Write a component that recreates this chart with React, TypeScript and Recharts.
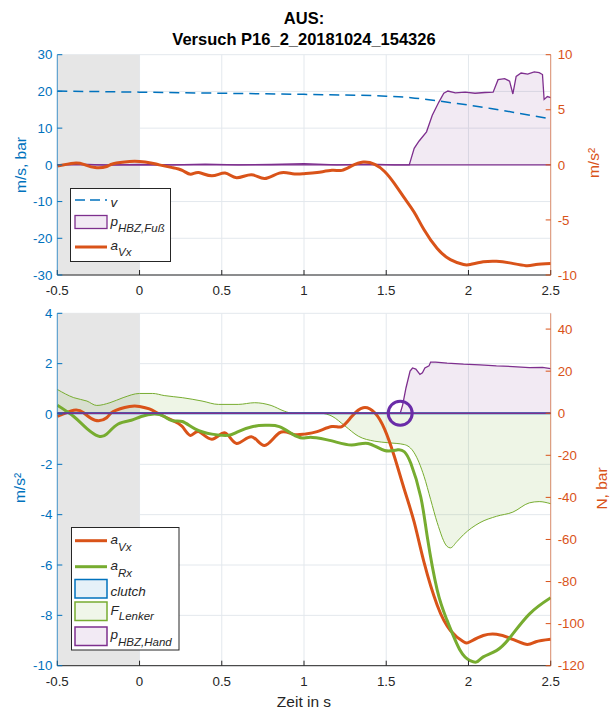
import {
  Area,
  CartesianGrid,
  ComposedChart,
  Line,
  ReferenceArea,
  ReferenceDot,
  ReferenceLine,
  XAxis,
  YAxis,
} from "recharts";

const FONT = '"Liberation Sans", Arial, Helvetica, sans-serif';
const BLUE = "#0072BD";
const ORANGE = "#D95319";
const PURPLE = "#7E2F8E";
const GREEN = "#77AC30";
const INK = "#262626";
const GRID = "#e3e8ed";
const SHADE = "#e6e6e6";

const timeTicks = [-0.5, 0, 0.5, 1, 1.5, 2, 2.5];
const topLeftTicks = [-30, -20, -10, 0, 10, 20, 30];
const topRightTicks = [-10, -5, 0, 5, 10];
const botLeftTicks = [-10, -8, -6, -4, -2, 0, 2, 4];
const botRightTicks = [-120, -100, -80, -60, -40, -20, 0, 20, 40];
const standWindow = [-0.5, 0];
const markerPoint = [1.585, 0];

// v in m/s (left axis, top)
const vT = [-0.5, 0, 0.5, 1, 1.5, 1.65, 1.8, 1.9, 2.0, 2.1, 2.2, 2.3, 2.4, 2.5];
const vV = [20.1, 19.8, 19.5, 19.2, 18.7, 18.3, 17.5, 16.9, 16.3, 15.6, 14.9, 14.1, 13.3, 12.5];

// p_HBZ,Fuss in bar (left axis, top)
const pFussT = [-0.5, -0.35, -0.2, 0, 0.2, 0.4, 0.6, 0.8, 1.0, 1.2, 1.4, 1.55, 1.64, 1.67, 1.7, 1.745, 1.78, 1.82, 1.85, 1.875, 1.92, 1.98, 2.04, 2.1, 2.15, 2.18, 2.22, 2.25, 2.27, 2.29, 2.32, 2.36, 2.4, 2.43, 2.45, 2.46, 2.48, 2.5];
const pFussV = [0, 0.2, -0.1, 0.1, 0, 0.2, 0, 0.1, 0.3, 0, 0.2, 0, 0, 4.5, 6.5, 9, 13.5, 17.1, 19.5, 20.1, 19.6, 19.8, 19.5, 19.7, 19.8, 23.2, 23.5, 22.8, 19.3, 24.1, 25, 24.7, 25.3, 25.1, 24.6, 17.8, 18.6, 18.3];

// a_Vx in m/s² (right axis top, left axis bottom)
const aVxT = [-0.5, -0.4, -0.34, -0.27, -0.2, -0.16, -0.06, 0, 0.06, 0.12, 0.2, 0.26, 0.31, 0.36, 0.44, 0.52, 0.59, 0.68, 0.76, 0.85, 0.93, 1.0, 1.08, 1.17, 1.23, 1.29, 1.36, 1.43, 1.49, 1.55, 1.61, 1.67, 1.73, 1.81, 1.89, 1.97, 2.01, 2.09, 2.17, 2.25, 2.35, 2.41, 2.5];
const aVxV = [-0.1, 0.15, 0.05, -0.25, -0.15, 0.1, 0.3, 0.3, 0.2, 0, -0.25, -0.5, -0.85, -0.7, -1.0, -0.75, -1.17, -0.9, -1.25, -0.75, -0.8, -0.8, -0.7, -0.5, -0.5, -0.1, 0.25, 0.05, -0.6, -1.7, -3.0, -4.3, -5.9, -7.6, -8.6, -9.05, -9.05, -8.8, -8.75, -8.9, -9.15, -9.05, -8.95];

// a_Rx in m/s² (left axis, bottom)
const aRxT = [-0.5, -0.4, -0.32, -0.25, -0.2, -0.13, -0.05, 0.01, 0.09, 0.15, 0.2, 0.26, 0.34, 0.44, 0.54, 0.6, 0.69, 0.77, 0.85, 0.93, 0.99, 1.05, 1.17, 1.29, 1.39, 1.49, 1.57, 1.61, 1.65, 1.71, 1.75, 1.81, 1.87, 1.95, 2.01, 2.05, 2.09, 2.17, 2.25, 2.37, 2.5];
const aRxV = [0.35, -0.1, -0.58, -0.88, -0.8, -0.4, -0.25, -0.1, 0, -0.1, -0.27, -0.3, -0.6, -0.8, -0.85, -0.7, -0.5, -0.45, -0.5, -0.8, -0.95, -0.93, -1.07, -1.23, -1.17, -1.45, -1.42, -1.5, -1.97, -3.3, -4.9, -7.0, -8.2, -9.4, -9.8, -9.85, -9.65, -9.4, -8.9, -7.95, -7.3];

// clutch (right axis, bottom)
const clutchT = [-0.5, 2.5];
const clutchV = [0, 0];

// F_Lenker in N (right axis, bottom)
const fT = [-0.5, -0.4, -0.32, -0.26, -0.18, -0.1, 0, 0.08, 0.15, 0.26, 0.38, 0.48, 0.6, 0.7, 0.8, 0.88, 0.93, 1.0, 1.1, 1.17, 1.25, 1.33, 1.43, 1.51, 1.61, 1.67, 1.73, 1.77, 1.81, 1.87, 1.89, 1.93, 1.97, 2.07, 2.17, 2.27, 2.37, 2.43, 2.5];
const fV = [11.3, 7.4, 5.8, 3.7, 5.0, 7.4, 9.4, 9.4, 8.4, 7.4, 5.8, 4.2, 4.2, 5.0, 3.7, 1.0, 0, 0, 0, -1.4, -6.1, -10.9, -13.3, -14, -14.9, -18.8, -30, -41, -52, -63.3, -64, -61, -57.7, -52, -49, -47, -42.6, -42, -43];

// p_HBZ,Hand in bar (right axis, bottom)
const pHandT = [-0.5, 0, 0.5, 1, 1.5, 1.585, 1.6, 1.62, 1.645, 1.66, 1.68, 1.705, 1.72, 1.735, 1.76, 1.77, 1.8, 1.87, 1.97, 2.07, 2.17, 2.27, 2.37, 2.45, 2.5];
const pHandV = [0, 0, 0, 0, 0, 0, 4, 12, 20, 21.5, 21, 18.5, 19.2, 21.5, 22.5, 24.3, 24.3, 23.8, 23.3, 23, 22.5, 22.2, 21.7, 21.8, 21.2];

type Row = { t: number; [k: string]: number };

function merge(series: Record<string, [number[], number[]]>): Row[] {
  const rows = new Map<number, Row>();
  Object.entries(series).forEach(([key, [ts, vs]]) => {
    ts.forEach((t, i) => {
      const row = rows.get(t) ?? { t };
      row[key] = vs[i];
      rows.set(t, row);
    });
  });
  return [...rows.values()].sort((a, b) => a.t - b.t);
}

const topData = merge({ v: [vT, vV], pF: [pFussT, pFussV], a: [aVxT, aVxV] });
const bottomData = merge({
  a: [aVxT, aVxV],
  r: [aRxT, aRxV],
  c: [clutchT, clutchV],
  f: [fT, fV],
  p: [pHandT, pHandV],
});

const tick = (fill: string) => ({ fill, fontSize: 13.3, fontFamily: FONT });

const xAxisProps = {
  dataKey: "t",
  type: "number" as const,
  domain: [-0.5, 2.5],
  ticks: timeTicks,
  interval: 0 as const,
  allowDataOverflow: true,
  tickSize: -5,
  tickMargin: 16,
  axisLine: { stroke: INK },
  tickLine: { stroke: INK },
  tick: tick(INK),
};

function TopChart() {
  return (
    <ComposedChart width={615} height={300} data={topData} margin={{ top: 54.7, right: 0, bottom: 0, left: 0 }}>
      <CartesianGrid yAxisId="l" stroke={GRID} />
      <XAxis {...xAxisProps} height={25} />
      <YAxis yAxisId="l" width={57.3} domain={[-30, 30]} ticks={topLeftTicks} interval={0} allowDataOverflow
        tickSize={-5} tickMargin={10} axisLine={{ stroke: BLUE, strokeOpacity: 0.7 }} tickLine={{ stroke: BLUE }} tick={tick(BLUE)} />
      <YAxis yAxisId="r" orientation="right" width={64.3} domain={[-10, 10]} ticks={topRightTicks} interval={0} allowDataOverflow
        tickSize={-5} tickMargin={12} axisLine={{ stroke: ORANGE, strokeOpacity: 0.6 }} tickLine={{ stroke: ORANGE }} tick={tick(ORANGE)} />
      <ReferenceArea yAxisId="l" x1={standWindow[0]} x2={standWindow[1]} fill={SHADE} fillOpacity={1} stroke="none" />
      <Area yAxisId="l" dataKey="pF" type="linear" stroke={PURPLE} strokeWidth={1.3} fill={PURPLE} fillOpacity={0.1}
        connectNulls dot={false} activeDot={false} isAnimationActive={false} />
      <ReferenceLine yAxisId="l" y={0} stroke={PURPLE} strokeWidth={1.3} />
      <Line yAxisId="l" dataKey="v" type="monotone" stroke={BLUE} strokeWidth={1.5} strokeDasharray="10 6"
        connectNulls dot={false} activeDot={false} isAnimationActive={false} />
      <Line yAxisId="r" dataKey="a" type="natural" stroke={ORANGE} strokeWidth={3}
        connectNulls dot={false} activeDot={false} isAnimationActive={false} />
    </ComposedChart>
  );
}

function BottomChart() {
  return (
    <ComposedChart width={615} height={410} data={bottomData} margin={{ top: 23.3, right: 0, bottom: 0, left: 0 }}>
      <CartesianGrid yAxisId="l" stroke={GRID} />
      <XAxis {...xAxisProps} height={34.3} />
      <YAxis yAxisId="l" width={57.3} domain={[-10, 4]} ticks={botLeftTicks} interval={0} allowDataOverflow
        tickSize={-5} tickMargin={10} axisLine={{ stroke: BLUE, strokeOpacity: 0.7 }} tickLine={{ stroke: BLUE }} tick={tick(BLUE)} />
      <YAxis yAxisId="r" orientation="right" width={64.3} domain={[-120, 47.5]} ticks={botRightTicks} interval={0} allowDataOverflow
        tickSize={-5} tickMargin={12} axisLine={{ stroke: ORANGE, strokeOpacity: 0.6 }} tickLine={{ stroke: ORANGE }} tick={tick(ORANGE)} />
      <ReferenceArea yAxisId="l" x1={standWindow[0]} x2={standWindow[1]} fill={SHADE} fillOpacity={1} stroke="none" />
      <Area yAxisId="r" dataKey="f" type="monotone" stroke={GREEN} strokeWidth={1} fill={GREEN} fillOpacity={0.12}
        connectNulls dot={false} activeDot={false} isAnimationActive={false} />
      <Area yAxisId="r" dataKey="p" type="linear" stroke={PURPLE} strokeWidth={1.3} fill={PURPLE} fillOpacity={0.1}
        connectNulls dot={false} activeDot={false} isAnimationActive={false} />
      <Line yAxisId="l" dataKey="a" type="natural" stroke={ORANGE} strokeWidth={3}
        connectNulls dot={false} activeDot={false} isAnimationActive={false} />
      <Line yAxisId="l" dataKey="r" type="natural" stroke={GREEN} strokeWidth={3}
        connectNulls dot={false} activeDot={false} isAnimationActive={false} />
      <Line yAxisId="r" dataKey="c" type="linear" stroke={BLUE} strokeWidth={2}
        connectNulls dot={false} activeDot={false} isAnimationActive={false} />
      <ReferenceLine yAxisId="r" y={0} stroke={PURPLE} strokeWidth={1.5} />
      <ReferenceDot yAxisId="r" x={markerPoint[0]} y={markerPoint[1]} r={12} fill="none" stroke="#6a2ca8" strokeWidth={3} />
    </ComposedChart>
  );
}

const Sub = ({ text, dy = 6 }: { text: string; dy?: number }) => (
  <tspan dy={dy} fontSize={11.5}>
    {text}
  </tspan>
);

function Overlay() {
  const txt = { fontFamily: FONT, fontSize: 13.5, fontStyle: "italic" as const, fill: INK };
  const axisLabel = { fontFamily: FONT, fontSize: 15.5, textAnchor: "middle" as const, dominantBaseline: "central" as const };
  return (
    <svg width={615} height={711} style={{ position: "absolute", left: 0, top: 0 }}>
      <g fontFamily={FONT} fontWeight="bold" fontSize={16.5} fill="#000" textAnchor="middle">
        <text x={304} y={23.5}>AUS:</text>
        <text x={304} y={45.3}>Versuch P16_2_20181024_154326</text>
      </g>

      <text {...axisLabel} fill={BLUE} transform="rotate(-90 20 165)" x={20} y={165}>m/s, bar</text>
      <text {...axisLabel} fill={ORANGE} transform="rotate(-90 593 163)" x={593} y={163}>m/s²</text>
      <text {...axisLabel} fill={BLUE} transform="rotate(-90 19.5 488)" x={19.5} y={488}>m/s²</text>
      <text {...axisLabel} fill={ORANGE} transform="rotate(-90 601 488.5)" x={601} y={488.5}>N, bar</text>
      <text {...axisLabel} fill={INK} x={304} y={701}>Zeit in s</text>

      {/* legend, top */}
      <rect x={70.5} y={188.5} width={100} height={73} fill="#fff" stroke={INK} strokeWidth={1} />
      <line x1={75} x2={107} y1={200} y2={200} stroke={BLUE} strokeWidth={1.5} strokeDasharray="10 5" />
      <text {...txt} x={110.5} y={206.5}>v</text>
      <rect x={75} y={215.5} width={32} height={13} fill="#f2eaf4" stroke={PURPLE} strokeWidth={1.3} />
      <text {...txt} x={110.5} y={225.5}>p<Sub text="HBZ,Fuß" /></text>
      <line x1={75} x2={107} y1={247} y2={247} stroke={ORANGE} strokeWidth={3} />
      <text {...txt} x={110.5} y={250}>a<Sub text="Vx" /></text>

      {/* legend, bottom */}
      <rect x={71.5} y={527.5} width={107.5} height={122.5} fill="#fff" stroke={INK} strokeWidth={1} />
      <line x1={75} x2={107} y1={540.7} y2={540.7} stroke={ORANGE} strokeWidth={3} />
      <text {...txt} x={110.5} y={544}>a<Sub text="Vx" dy={7} /></text>
      <line x1={75} x2={107} y1={566.7} y2={566.7} stroke={GREEN} strokeWidth={3} />
      <text {...txt} x={110.5} y={569.5}>a<Sub text="Rx" dy={7} /></text>
      <rect x={75} y={579.5} width={32} height={18.5} fill="#e6f1f8" stroke={BLUE} strokeWidth={1.5} />
      <text {...txt} x={110.5} y={596}>clutch</text>
      <rect x={75} y={602} width={32} height={18.5} fill="#f0f6e9" stroke={GREEN} strokeWidth={1.5} />
      <text {...txt} x={110.5} y={614.5}>F<Sub text="Lenker" dy={5.5} /></text>
      <rect x={75} y={627} width={32} height={18.5} fill="#f2eaf4" stroke={PURPLE} strokeWidth={1.5} />
      <text {...txt} x={110.5} y={638.5}>p<Sub text="HBZ,Hand" dy={7} /></text>
    </svg>
  );
}

export default function App() {
  return (
    <div style={{ position: "absolute", left: 0, top: 0, width: 615, height: 711, background: "#fff", fontFamily: FONT }}>
      <div style={{ position: "absolute", left: 0, top: 0 }}>
        <TopChart />
      </div>
      <div style={{ position: "absolute", left: 0, top: 290 }}>
        <BottomChart />
      </div>
      <Overlay />
    </div>
  );
}
